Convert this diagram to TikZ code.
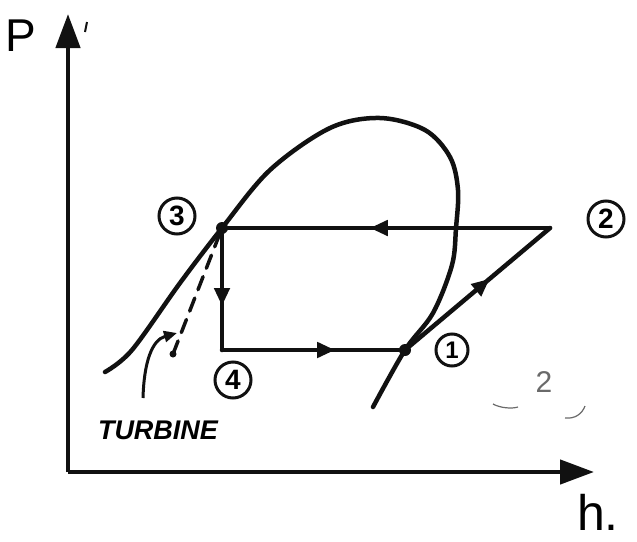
\documentclass[tikz,border=0pt]{standalone}
\usepackage{fontspec}
\setmainfont{Liberation Sans}
\usetikzlibrary{arrows.meta,decorations.markings}
\definecolor{ink}{HTML}{111111}
\definecolor{faint}{HTML}{6A6A6A}
\tikzset{
  curve/.style={draw=ink,line width=4.5pt,line cap=round},
  axis/.style={draw=ink,line width=4.5pt,-{Triangle[length=34pt,width=24pt]}},
  state/.style={circle,fill=ink,inner sep=0pt,minimum size=12pt},
  num/.style={circle,draw=ink,line width=3pt,inner sep=0pt,minimum size=36pt,
    font=\fontsize{28}{28}\selectfont\bfseries},
  midarrow/.style={decoration={markings,
    mark=at position #1 with {\arrow{Triangle[length=18pt,width=15pt]}}},postaction=decorate},
}

\begin{document}
\begin{tikzpicture}[x=1pt,y=-1pt]
  \useasboundingbox (0,0) rectangle (637,541);
  % axes
  \coordinate (o) at (68,472);
  \coordinate (ptop) at (68,14);
  \coordinate (hend) at (594,472);
  \draw[axis] (o) -- (ptop);
  \draw[axis] (o) -- (hend);
  \node[font=\fontsize{46}{46}\selectfont] (plab) at (21,36) {P};
  \node[font=\fontsize{50}{50}\selectfont] (hlab) at (598,512) {h.};
  \draw[ink,line width=2pt] (87,22) -- (85,32);
  % cycle points
  \node[state] (s3) at (222,228) {};
  \node[state] (s1) at (405,350) {};
  \coordinate (s2) at (550,228);
  \coordinate (s4) at (222,350);
  \node[num] (n3) at (177,216) {3};
  \node[num] (n2) at (606,219) {2};
  \node[num,minimum size=32pt,font=\fontsize{24}{24}\selectfont\bfseries] (n1) at (452,350) {1};
  \node[num] (n4) at (233,380) {4};
  % saturation dome
  \draw[curve] plot[smooth,tension=0.55] coordinates {(105,372) (132,350) (180,283)
    (s3) (270,170) (330,128) (380,118) (425,130) (450,157) (458,190) (456,228)
    (452,265) (433,313) (s1) (373,407)};
  % cycle
  \draw[curve,midarrow=0.56] (s2) -- (s3);
  \draw[curve,midarrow=0.62] (s3) -- (s4);
  \draw[curve,midarrow=0.64] (s4) -- (s1);
  \draw[curve,midarrow=0.57] (s1) -- (s2);
  % turbine expansion
  \coordinate (tend) at (173,354);
  \draw[curve,line width=3.5pt,dash pattern=on 14pt off 9pt] (s3) -- (tend);
  \fill[ink] (tend) circle (3.5pt);
  \node[font=\fontsize{27}{27}\selectfont\bfseries\itshape] (turb) at (158,430) {TURBINE};
  \coordinate (tstart) at (143,398);
  \draw[ink,line width=3pt,-{Triangle[length=13pt,width=11pt]}]
    (tstart) .. controls (144,362) and (152,340) .. (177,333);
  % faint note
  \node[text=faint,font=\fontsize{30}{30}\selectfont] (faint2) at (544,382) {2};
  \draw[faint,line width=1.2pt] (493,404) .. controls (500,408) and (512,409) .. (518,407);
  \draw[faint,line width=1.2pt] (565,418) .. controls (575,419) and (582,414) .. (585,406);
\end{tikzpicture}
\end{document}
